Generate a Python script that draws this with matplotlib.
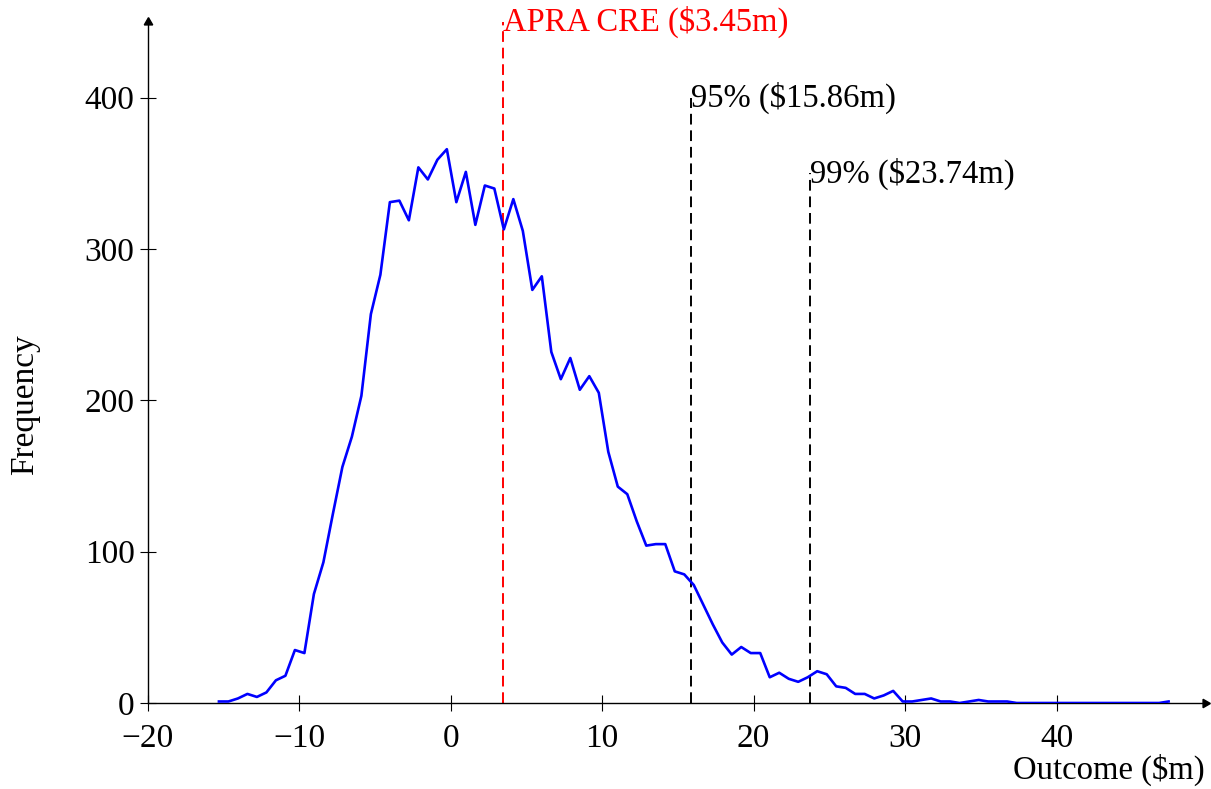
import matplotlib
matplotlib.use("Agg")
import matplotlib.pyplot as plt
import numpy as np

plt.rcParams['font.family'] = ['Liberation Serif', 'DejaVu Serif']

# simulated outcome histogram (bin counts)
freq = [1, 1, 3, 6, 4, 7, 15, 18, 35, 33,
        72, 93, 125, 156, 176, 203, 257, 283, 331, 332,
        319, 354, 346, 359, 366, 331, 351, 316, 342, 340,
        313, 333, 312, 273, 282, 232, 214, 228, 207, 216,
        205, 166, 143, 138, 120, 104, 105, 105, 87, 85,
        78, 65, 52, 40, 32, 37, 33, 33, 17, 20,
        16, 14, 17, 21, 19, 11, 10, 6, 6, 3,
        5, 8, 1, 1, 2, 3, 1, 1, 0, 1,
        2, 1, 1, 1, 0, 0, 0, 0, 0, 0,
        0, 0, 0, 0, 0, 0, 0, 0, 0, 0, 1]
x_lo, x_hi = -15.3, 47.4
outcome = np.linspace(x_lo, x_hi, len(freq))

# reference lines: (value, top of line, label, colour)
markers = [(3.45, 450, 'APRA CRE ($3.45m)', 'red'),
           (15.86, 400, '95% ($15.86m)', 'black'),
           (23.74, 350, '99% ($23.74m)', 'black')]

fig = plt.figure(figsize=(12.11, 7.89), dpi=100)
ax = fig.add_axes([0.122, 0.109, 0.873, 0.863])

ax.plot(outcome, freq, color='#0000ff', lw=1.9, zorder=3)

for val, top, label, col in markers:
    ax.plot([val, val], [0, top], color=col, lw=1.4, dashes=(5.5, 3), zorder=2)
    ax.text(val, top, label, color=col, fontsize=23.5,
            ha='left', va='center')

ax.set_xlim(-20, 49.8)
ax.set_ylim(0, 450)
ax.set_xticks(range(-20, 41, 10))
ax.set_yticks(range(0, 401, 100))
for s in ['top', 'right']:
    ax.spines[s].set_visible(False)
for s in ['left', 'bottom']:
    ax.spines[s].set_linewidth(1.0)
ax.tick_params(direction='inout', length=11, width=0.8, labelsize=24)
ax.tick_params(axis='x', pad=9)
ax.tick_params(axis='y', pad=4)

# arrow heads on the axes
ax.plot(1, 0, marker=(3, 0, -90), ms=7, color='black',
        transform=ax.transAxes, clip_on=False)
ax.plot(0, 1, marker=(3, 0, 0), ms=7, color='black',
        transform=ax.transAxes, clip_on=False)

ax.set_ylabel('Frequency', fontsize=24)
ax.yaxis.set_label_coords(-0.102, 0.438)
fig.text(0.995, 0.024, 'Outcome ($m)', fontsize=23.5, ha='right', va='center')

fig.savefig('out.png', dpi=100)
